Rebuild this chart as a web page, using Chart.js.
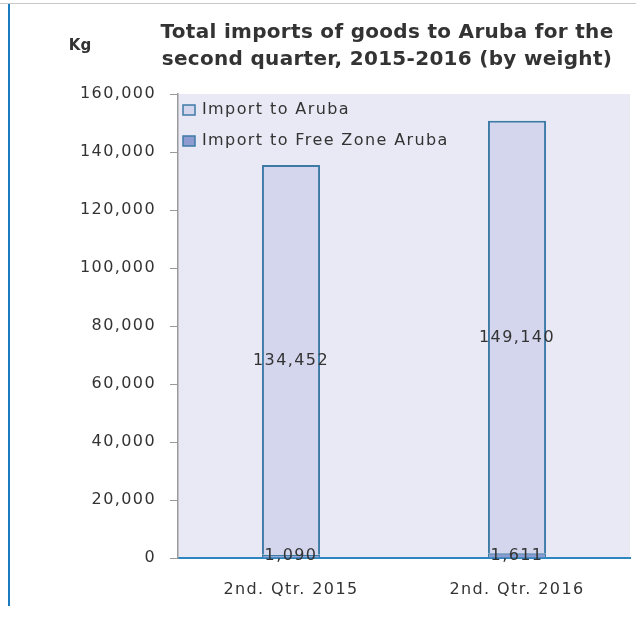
<!DOCTYPE html>
<html>
<head>
<meta charset="utf-8">
<script src="https://cdn.jsdelivr.net/npm/chart.js@4.4.1/dist/chart.umd.min.js"></script>
<style>
  html, body { margin: 0; padding: 0; background: #fff; }
  #wrap { position: relative; width: 636px; height: 622px; }
  #frameTop { position: absolute; left: 0; top: 3px; width: 636px; height: 1px; background: #c8c8c8; }
  #frameLeft { position: absolute; left: 8px; top: 4px; width: 2px; height: 602px; background: #1b7bc0; }
</style>
</head>
<body>
<div id="wrap">
  <canvas id="chart" width="636" height="622"></canvas>
  <div id="frameTop"></div>
  <div id="frameLeft"></div>
</div>
<script>
// dati
const categories = ['2nd. Qtr. 2015', '2nd. Qtr. 2016'];
const importAruba = [134452, 149140];
const importFreeZone = [1090, 1611];
const yTicks = [0, 20000, 40000, 60000, 80000, 100000, 120000, 140000, 160000];
const seriesNames = ['Import to Aruba', 'Import to Free Zone Aruba'];
const titleLines = ['Total imports of goods to Aruba for the', 'second quarter, 2015-2016 (by weight)'];

const FONT = '"DejaVu Sans", sans-serif';
const TEXT = '#333333';
const SPACING = '1.4px';
const fmt = v => v.toLocaleString('en-US');

// spaziatura lettere come nel grafico originale
const spacing = {
  id: 'spacing',
  beforeInit(chart) { chart.ctx.letterSpacing = SPACING; },
  beforeUpdate(chart) { chart.ctx.letterSpacing = SPACING; },
  beforeDraw(chart) { chart.ctx.letterSpacing = SPACING; }
};

// sfondo dell'area del grafico
const plotBg = {
  id: 'plotBg',
  beforeDraw(chart) {
    const { ctx, chartArea: a } = chart;
    ctx.save();
    ctx.fillStyle = '#e8e9f5';
    ctx.fillRect(a.left, a.top, a.right - a.left, a.bottom - a.top);
    ctx.restore();
  }
};

// titolo, unita', legenda e etichette dei valori
const overlay = {
  id: 'overlay',
  afterDraw(chart) {
    const { ctx } = chart;
    ctx.save();
    ctx.fillStyle = TEXT;
    ctx.textBaseline = 'middle';

    ctx.letterSpacing = '0.3px';
    ctx.font = 'bold 20px ' + FONT;
    ctx.textAlign = 'center';
    ctx.fillText(titleLines[0], 387, 33);
    ctx.fillText(titleLines[1], 387, 60);

    ctx.letterSpacing = '0px';
    ctx.font = 'bold 15px ' + FONT;
    ctx.fillText('Kg', 80, 46);

    // legenda dentro l'area
    ctx.letterSpacing = SPACING;
    ctx.font = '16px ' + FONT;
    ctx.textAlign = 'left';
    const fills = ['#d3d6ec', '#8e9bd0'];
    seriesNames.forEach((name, i) => {
      const y = 110 + i * 31;
      ctx.fillStyle = fills[i];
      ctx.fillRect(183, y - 5, 12, 10);
      ctx.strokeStyle = '#3e7aa6';
      ctx.lineWidth = 1.5;
      ctx.strokeRect(183, y - 5, 12, 10);
      ctx.fillStyle = TEXT;
      ctx.fillText(name, 202, y);
    });

    // etichette valori (dataset 0 = Free Zone, 1 = Aruba)
    ctx.textAlign = 'center';
    chart.data.datasets.forEach((ds, di) => {
      const meta = chart.getDatasetMeta(di);
      meta.data.forEach((bar, i) => {
        const p = bar.getProps(['x', 'y', 'base'], true);
        const y = (p.y + p.base) / 2;
        ctx.fillText(fmt(ds.data[i]), p.x, di === 0 ? y : y + 1);
      });
    });
    ctx.restore();
  }
};

new Chart(document.getElementById('chart'), {
  type: 'bar',
  data: {
    labels: categories,
    datasets: [
      {
        label: seriesNames[1],
        data: importFreeZone,
        backgroundColor: '#8e9bd0',
        borderColor: '#3e7aa6',
        borderWidth: 1.5,
        barPercentage: 0.257,
        categoryPercentage: 1
      },
      {
        label: seriesNames[0],
        data: importAruba,
        backgroundColor: '#d3d6ec',
        borderColor: '#3e7aa6',
        borderWidth: 2,
        barPercentage: 0.257,
        categoryPercentage: 1
      }
    ]
  },
  options: {
    responsive: false,
    animation: false,
    layout: { padding: { top: 94, right: 6, left: 0, bottom: 0 } },
    plugins: { legend: { display: false }, title: { display: false }, tooltip: { enabled: false } },
    scales: {
      x: {
        stacked: true,
        grid: { display: false },
        border: { color: '#2e86c1', width: 2 },
        ticks: { color: TEXT, font: { family: FONT, size: 16 }, padding: 14 },
        afterFit(s) { s.height = 64; }
      },
      y: {
        stacked: true,
        min: 0,
        max: 160000,
        afterBuildTicks(s) { s.ticks = yTicks.map(v => ({ value: v })); },
        grid: { drawOnChartArea: false, drawTicks: true, tickLength: 8, color: '#9a9a9a' },
        border: { color: '#9a9a9a', width: 1.5 },
        ticks: { color: TEXT, font: { family: FONT, size: 16 }, padding: 14, callback: v => fmt(v) },
        afterFit(s) { s.width = 178; }
      }
    }
  },
  plugins: [spacing, plotBg, overlay]
});
</script>
</body>
</html>
